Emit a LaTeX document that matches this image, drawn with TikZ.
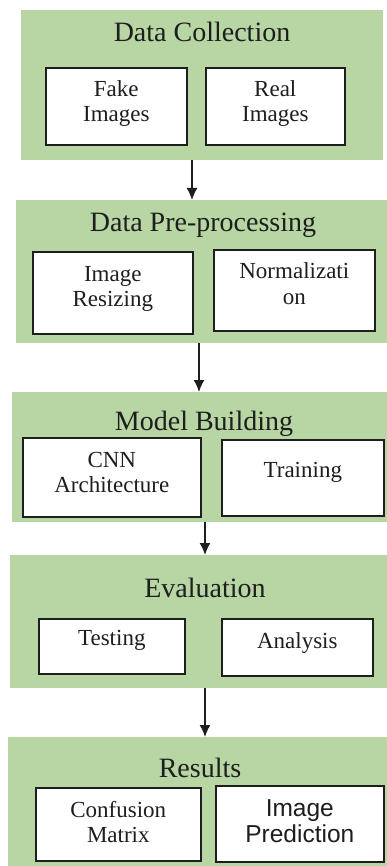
\documentclass[tikz,border=0pt]{standalone}
\usepackage{fontspec}
\setmainfont{Liberation Serif}
\newfontfamily\arialfont{Liberation Sans}
\usetikzlibrary{arrows.meta}
\definecolor{stagegreen}{HTML}{B7D6A4}
\definecolor{inkgrey}{HTML}{1E1E1E}

\begin{document}
\begin{tikzpicture}[x=1pt,y=-1pt,
  stage/.style={fill=stagegreen, draw=none, inner sep=0pt, anchor=north west},
  stagetitle/.style={anchor=base, inner sep=0pt, text=inkgrey,
    font=\fontsize{28}{30}\selectfont},
  taskbox/.style={fill=white, draw=inkgrey, line width=1.6pt, inner sep=0pt,
    anchor=north west},
  tasktext/.style={anchor=base, inner sep=0pt, text=inkgrey,
    font=\fontsize{23}{25}\selectfont},
  sanstext/.style={anchor=base, inner sep=0pt, text=inkgrey,
    font=\arialfont\fontsize{24.5}{26}\selectfont},
  flow/.style={draw=inkgrey, line width=1.5pt,
    -{Latex[length=12pt,width=11pt]}}
]
\useasboundingbox (0,0) rectangle (387,866);

% stage panels
\node[stage, minimum width=362pt, minimum height=150pt] (b1) at (21,10) {};
\node[stage, minimum width=371pt, minimum height=143pt] (b2) at (16,200) {};
\node[stage, minimum width=375pt, minimum height=130pt] (b3) at (12,392) {};
\node[stage, minimum width=377pt, minimum height=133pt] (b4) at (10,555) {};
\node[stage, minimum width=379pt, minimum height=129pt] (b5) at (8,737) {};

% stage titles
\node[stagetitle] (t1) at (202,42) {Data Collection};
\node[stagetitle] (t2) at (203,232) {Data Pre-processing};
\node[stagetitle] (t3) at (204,430) {Model Building};
\node[stagetitle] (t4) at (205,597) {Evaluation};
\node[stagetitle] (t5) at (200,777) {Results};

% task boxes
\node[taskbox, minimum width=141pt, minimum height=77pt] (fake) at (45,67) {};
\node[taskbox, minimum width=139pt, minimum height=77pt] (real) at (205,67) {};
\node[taskbox, minimum width=160pt, minimum height=82pt] (resize) at (32,251) {};
\node[taskbox, minimum width=161pt, minimum height=81pt] (norm) at (213,249) {};
\node[taskbox, minimum width=178pt, minimum height=79pt] (cnn) at (22,437) {};
\node[taskbox, minimum width=162pt, minimum height=76pt] (train) at (221,439) {};
\node[taskbox, minimum width=146pt, minimum height=55pt] (test) at (38,618) {};
\node[taskbox, minimum width=151pt, minimum height=57pt] (anal) at (221,618) {};
\node[taskbox, minimum width=165pt, minimum height=73pt] (conf) at (35,787) {};
\node[taskbox, minimum width=168pt, minimum height=76pt] (pred) at (215,785) {};

% task labels
\node[tasktext] (fakel) at (fake.north |- 0,97) {\begin{tabular}[t]{@{}c@{}}Fake\\Images\end{tabular}};
\node[tasktext] (reall) at (real.north |- 0,97) {\begin{tabular}[t]{@{}c@{}}Real\\Images\end{tabular}};
\node[tasktext] (resizel) at (resize.north |- 0,281) {\begin{tabular}[t]{@{}c@{}}Image\\Resizing\end{tabular}};
\node[tasktext] (norml) at (norm.north |- 0,279) {\begin{tabular}[t]{@{}c@{}}Normalizati\\on\end{tabular}};
\node[tasktext] (cnnl) at (cnn.north |- 0,467) {\begin{tabular}[t]{@{}c@{}}CNN\\Architecture\end{tabular}};
\node[tasktext] (trainl) at (train.north |- 0,477) {Training};
\node[tasktext] (testl) at (test.north |- 0,645) {Testing};
\node[tasktext] (anall) at (anal.north |- 0,648) {Analysis};
\node[tasktext] (confl) at (conf.north |- 0,817) {\begin{tabular}[t]{@{}c@{}}Confusion\\Matrix\end{tabular}};
\node[sanstext] (predl) at (pred.north |- 0,816) {\begin{tabular}[t]{@{}c@{}}Image\\Prediction\end{tabular}};

% flow between stages
\draw[flow] (b1.south -| 192,0) -- (b2.north -| 192,0);
\draw[flow] (b2.south -| 199,0) -- (b3.north -| 199,0);
\draw[flow] (b3.south -| 205,0) -- (b4.north -| 205,0);
\draw[flow] (b4.south -| 205,0) -- (b5.north -| 205,0);
\end{tikzpicture}
\end{document}
